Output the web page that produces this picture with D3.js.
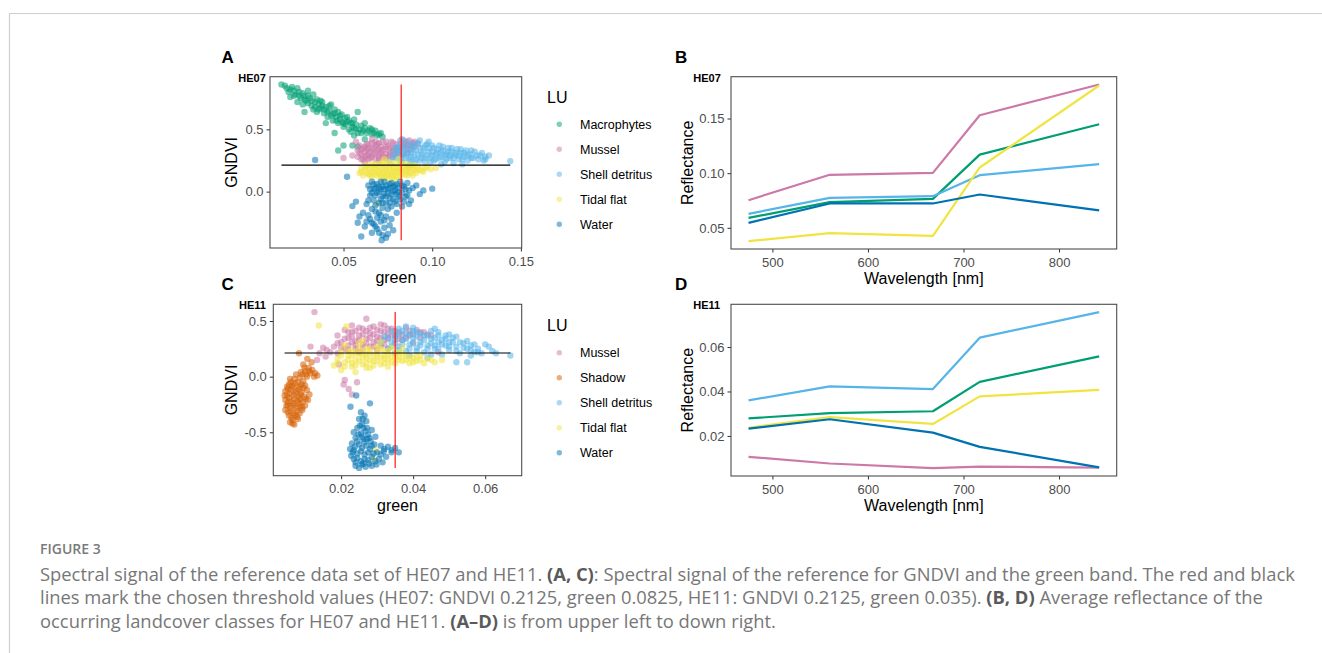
<!DOCTYPE html>
<html>
<head>
<meta charset="utf-8">
<script src="https://cdn.jsdelivr.net/npm/d3@7"></script>
<style>
  body { margin: 0; background: #fff; }
  svg { display: block; font-family: "Liberation Sans", Arial, sans-serif; }
</style>
</head>
<body>
<svg id="fig" width="1322" height="653"></svg>
<script>
/**
* Figure 3: spectral signal of the reference data (HE07 / HE11).
*/

// class colours (okabe-ito, as in the ggplot figure)
const colors = {
    green: "#009E73", pink: "#CC79A7", sky: "#56B4E9",
    yellow: "#F0E442", blue: "#0072B2", orange: "#D55E00"
};

// ---- HE07 scatter : [green, GNDVI] ----
const he07Macrophytes = [
    [0.015,0.86],[0.018,0.83],[0.019,0.80],[0.021,0.84],[0.022,0.81],[0.023,0.78],[0.020,0.76],[0.025,0.80],
    [0.026,0.75],[0.024,0.72],[0.028,0.77],[0.029,0.73],[0.027,0.70],[0.030,0.81],[0.031,0.75],[0.032,0.69],
    [0.033,0.78],[0.034,0.72],[0.033,0.66],[0.035,0.74],[0.036,0.70],[0.035,0.64],[0.037,0.67],[0.038,0.72],
    [0.039,0.63],[0.040,0.68],[0.041,0.60],[0.042,0.65],[0.043,0.70],[0.044,0.62],[0.044,0.57],[0.045,0.66],
    [0.046,0.60],[0.047,0.55],[0.047,0.64],[0.048,0.58],[0.049,0.62],[0.050,0.55],[0.050,0.52],[0.051,0.59],
    [0.052,0.56],[0.053,0.50],[0.054,0.55],[0.055,0.52],[0.056,0.58],[0.057,0.50],[0.058,0.64],[0.058,0.47],
    [0.060,0.53],[0.061,0.49],[0.062,0.55],[0.063,0.47],[0.065,0.51],[0.066,0.46],[0.068,0.49],[0.069,0.45],
    [0.071,0.47],[0.056,0.45],[0.047,0.33],[0.050,0.37],[0.055,0.37],[0.058,0.36],[0.045,0.47],[0.040,0.55],
    [0.028,0.64],[0.062,0.42],
    [0.017,0.85],[0.020,0.82],[0.022,0.77],[0.024,0.83],[0.025,0.77],[0.027,0.79],[0.028,0.74],[0.030,0.71],
    [0.030,0.77],[0.032,0.73],[0.034,0.68],[0.036,0.66],[0.037,0.73],[0.038,0.69],[0.039,0.66],[0.041,0.64],
    [0.042,0.69],[0.043,0.61],[0.045,0.63],[0.046,0.57],[0.048,0.61],[0.049,0.56],[0.051,0.54],[0.052,0.60],
    [0.053,0.57],[0.055,0.55],[0.056,0.51],[0.057,0.54],[0.059,0.50],[0.060,0.47],[0.062,0.51],[0.064,0.49],
    [0.066,0.50],[0.067,0.47],[0.070,0.46],[0.072,0.44],[0.054,0.48]
];
const he07Mussel = [
    [0.058,0.28],[0.058,0.33],[0.059,0.37],[0.060,0.30],[0.061,0.35],[0.061,0.26],[0.062,0.32],[0.063,0.38],
    [0.063,0.29],[0.064,0.35],[0.065,0.27],[0.065,0.32],[0.066,0.39],[0.067,0.30],[0.067,0.35],[0.068,0.26],
    [0.069,0.33],[0.069,0.38],[0.070,0.29],[0.071,0.36],[0.071,0.31],[0.072,0.40],[0.073,0.27],[0.073,0.34],
    [0.074,0.30],[0.075,0.37],[0.076,0.32],[0.076,0.28],[0.077,0.40],[0.078,0.35],[0.079,0.30],[0.080,0.38],
    [0.081,0.33],[0.082,0.41],[0.083,0.36],[0.084,0.31],[0.085,0.39],[0.086,0.34],[0.087,0.41],[0.088,0.37],
    [0.090,0.40],[0.092,0.38],[0.055,0.29],[0.050,0.27],[0.057,0.40],[0.066,0.42],[0.070,0.25],[0.062,0.24],
    [0.059,0.31],[0.060,0.34],[0.062,0.28],[0.062,0.36],[0.064,0.30],[0.064,0.38],[0.066,0.28],[0.066,0.34],
    [0.068,0.31],[0.068,0.37],[0.070,0.27],[0.070,0.34],[0.070,0.39],[0.072,0.29],[0.072,0.33],[0.074,0.27],
    [0.074,0.36],[0.074,0.40],[0.076,0.30],[0.076,0.35],[0.078,0.28],[0.078,0.33],[0.078,0.39],[0.080,0.31],
    [0.080,0.35],[0.082,0.29],[0.082,0.34],[0.084,0.37],[0.084,0.41],[0.086,0.31],[0.086,0.37],[0.088,0.34],
    [0.089,0.39],[0.090,0.36],[0.060,0.26],[0.064,0.26],[0.068,0.40],[0.063,0.34]
];
const he07Shell = [
    [0.076,0.25],[0.078,0.30],[0.079,0.35],[0.080,0.27],[0.081,0.32],[0.082,0.38],[0.083,0.24],[0.084,0.29],
    [0.085,0.34],[0.086,0.40],[0.087,0.26],[0.088,0.31],[0.089,0.36],[0.090,0.23],[0.090,0.28],[0.091,0.33],
    [0.092,0.39],[0.093,0.25],[0.094,0.30],[0.095,0.35],[0.096,0.27],[0.097,0.38],[0.098,0.32],[0.099,0.24],
    [0.100,0.29],[0.101,0.35],[0.102,0.26],[0.103,0.31],[0.104,0.37],[0.105,0.28],[0.106,0.33],[0.107,0.24],
    [0.108,0.30],[0.109,0.35],[0.110,0.27],[0.111,0.32],[0.112,0.23],[0.113,0.29],[0.114,0.34],[0.115,0.26],
    [0.116,0.31],[0.118,0.28],[0.119,0.33],[0.120,0.25],[0.121,0.30],[0.123,0.27],[0.124,0.32],[0.126,0.26],
    [0.127,0.29],[0.129,0.25],[0.130,0.28],[0.132,0.29],[0.144,0.245],[0.098,0.40],[0.093,0.41],[0.087,0.21],
    [0.105,0.22],[0.117,0.22],[0.083,0.42],
    [0.079,0.27],[0.080,0.33],[0.081,0.36],[0.082,0.25],[0.083,0.30],[0.084,0.35],[0.085,0.27],[0.086,0.31],
    [0.087,0.37],[0.088,0.24],[0.088,0.28],[0.089,0.33],[0.090,0.38],[0.091,0.26],[0.092,0.30],[0.093,0.35],
    [0.094,0.27],[0.095,0.32],[0.096,0.37],[0.096,0.24],[0.097,0.29],[0.098,0.35],[0.099,0.27],[0.100,0.32],
    [0.100,0.37],[0.101,0.25],[0.102,0.30],[0.103,0.34],[0.104,0.27],[0.105,0.32],[0.106,0.36],[0.107,0.29],
    [0.108,0.26],[0.109,0.32],[0.110,0.29],[0.111,0.35],[0.112,0.27],[0.113,0.31],[0.115,0.29],[0.116,0.34],
    [0.117,0.26],[0.118,0.31],[0.120,0.29],[0.122,0.27],[0.122,0.33],[0.125,0.29],[0.128,0.31],[0.130,0.26]
];
const he07Tidal = [
    [0.059,0.15],[0.060,0.19],[0.061,0.13],[0.062,0.17],[0.063,0.21],[0.064,0.14],[0.065,0.18],[0.066,0.12],
    [0.066,0.22],[0.067,0.16],[0.068,0.20],[0.069,0.13],[0.070,0.17],[0.071,0.10],[0.071,0.22],[0.072,0.15],
    [0.073,0.19],[0.074,0.12],[0.075,0.24],[0.075,0.16],[0.076,0.21],[0.077,0.13],[0.078,0.18],[0.079,0.10],
    [0.079,0.23],[0.080,0.15],[0.081,0.20],[0.082,0.12],[0.083,0.17],[0.084,0.22],[0.085,0.14],[0.086,0.19],
    [0.087,0.16],[0.088,0.21],[0.089,0.13],[0.090,0.18],[0.091,0.15],[0.092,0.20],[0.094,0.17],[0.096,0.19],
    [0.099,0.18],[0.102,0.19],[0.073,0.26],[0.081,0.26],[0.069,-0.10],
    [0.060,0.16],[0.062,0.20],[0.063,0.15],[0.064,0.19],[0.065,0.13],[0.066,0.16],[0.067,0.21],[0.068,0.14],
    [0.068,0.18],[0.069,0.22],[0.070,0.15],[0.070,0.20],[0.071,0.13],[0.072,0.18],[0.072,0.23],[0.073,0.14],
    [0.074,0.17],[0.074,0.21],[0.075,0.13],[0.076,0.18],[0.077,0.15],[0.077,0.22],[0.078,0.12],[0.078,0.20],
    [0.079,0.16],[0.080,0.19],[0.080,0.12],[0.081,0.16],[0.082,0.22],[0.082,0.18],[0.083,0.14],[0.084,0.19],
    [0.085,0.17],[0.086,0.13],[0.086,0.22],[0.087,0.19],[0.088,0.15],[0.089,0.18],[0.090,0.21],[0.091,0.17],
    [0.093,0.18],[0.095,0.16],[0.097,0.20],[0.076,0.10],[0.073,0.11]
];
const he07Water = [
    [0.034,0.254],[0.052,0.12],[0.100,0.024],[0.055,-0.116],[0.060,-0.36],[0.0715,-0.39],
    [0.064,0.05],[0.066,0.08],[0.067,0.02],[0.068,-0.03],[0.069,0.06],[0.070,0.00],[0.071,-0.06],[0.072,0.04],
    [0.073,0.08],[0.073,-0.02],[0.074,-0.09],[0.075,0.02],[0.076,0.06],[0.076,-0.05],[0.077,-0.12],[0.078,0.00],
    [0.079,0.05],[0.079,-0.08],[0.080,-0.02],[0.081,0.03],[0.082,0.08],[0.082,-0.06],[0.083,-0.01],[0.084,0.04],
    [0.085,-0.04],[0.086,0.07],[0.087,0.01],[0.088,-0.07],[0.089,0.03],[0.091,0.05],[0.093,-0.02],[0.095,0.01],
    [0.065,-0.03],[0.063,-0.10],[0.066,-0.14],[0.068,-0.11],[0.070,-0.17],[0.072,-0.13],[0.074,-0.20],[0.061,-0.17],
    [0.059,-0.20],[0.058,-0.25],[0.062,-0.28],[0.065,-0.22],[0.067,-0.26],[0.069,-0.30],[0.071,-0.24],[0.073,-0.29],
    [0.075,-0.34],[0.076,-0.27],[0.078,-0.31],[0.074,-0.37],[0.066,-0.33],[0.080,-0.17],[0.083,-0.12],[0.087,-0.10],
    [0.057,-0.08],
    [0.065,0.02],[0.066,-0.01],[0.067,0.06],[0.068,0.03],[0.069,-0.01],[0.070,0.04],[0.070,-0.09],[0.071,0.02],
    [0.071,0.08],[0.072,-0.04],[0.072,-0.09],[0.073,0.02],[0.074,0.05],[0.074,-0.04],[0.075,-0.01],[0.075,-0.14],
    [0.076,0.03],[0.077,-0.02],[0.077,0.07],[0.078,-0.06],[0.078,0.04],[0.079,0.01],[0.080,0.06],[0.080,-0.10],
    [0.081,-0.04],[0.081,0.00],[0.083,0.05],[0.084,-0.08],[0.085,0.02],[0.086,-0.03],[0.068,-0.16],[0.069,-0.21],
    [0.071,-0.19],[0.073,-0.23],[0.064,-0.19],[0.066,-0.25],[0.068,-0.28],[0.070,-0.33],[0.063,-0.24],[0.072,-0.35],
    [0.077,-0.22],[0.064,-0.07],[0.067,-0.07],[0.076,-0.09]
];

// ---- HE11 scatter : [green, GNDVI] ----
const he11Mussel = [
    [0.0126,0.58],[0.0115,0.27],[0.0133,0.15],[0.0157,0.18],[0.0194,0.11],[0.0207,-0.07],[0.0221,-0.11],
    [0.0244,-0.05],[0.023,-0.16],[0.021,-0.03],
    [0.016,0.24],[0.018,0.27],[0.019,0.21],[0.020,0.31],[0.021,0.25],[0.022,0.35],[0.022,0.28],[0.023,0.40],
    [0.024,0.32],[0.024,0.25],[0.025,0.37],[0.026,0.29],[0.026,0.43],[0.027,0.34],[0.027,0.52],[0.028,0.39],
    [0.028,0.27],[0.029,0.31],[0.029,0.45],[0.030,0.36],[0.031,0.41],[0.031,0.28],[0.032,0.33],[0.032,0.46],
    [0.033,0.38],[0.033,0.25],[0.034,0.43],[0.035,0.30],[0.035,0.36],[0.036,0.40],[0.037,0.33],[0.038,0.44],
    [0.039,0.37],[0.040,0.30],[0.041,0.42],[0.042,0.35],[0.043,0.40],[0.045,0.37],[0.047,0.22],[0.019,0.37],
    [0.021,0.42],[0.025,0.22],[0.030,0.24],[0.023,0.46],[0.014,0.21],
    [0.020,0.26],[0.021,0.34],[0.022,0.24],[0.023,0.31],[0.023,0.36],[0.024,0.28],[0.024,0.41],[0.025,0.33],
    [0.026,0.25],[0.026,0.38],[0.027,0.30],[0.027,0.41],[0.028,0.35],[0.028,0.44],[0.029,0.27],[0.029,0.38],
    [0.030,0.32],[0.030,0.42],[0.031,0.35],[0.032,0.29],[0.032,0.40],[0.033,0.43],[0.033,0.34],[0.034,0.37],
    [0.035,0.41],[0.036,0.34],[0.037,0.38],[0.038,0.35],[0.039,0.41],[0.040,0.38],[0.042,0.40],[0.044,0.38],
    [0.017,0.22],[0.019,0.30],[0.015,0.26],[0.022,0.40],[0.025,0.44],[0.031,0.47]
];
const he11Shadow = [
    [0.0083,0.21],[0.0106,0.16],[0.0110,0.08],[0.0120,0.06],[0.0128,0.03],[0.0134,0.01],[0.0100,0.05],[0.0092,0.02],
    [0.0115,0.03],[0.0105,0.00],[0.0085,-0.01],[0.0125,0.00],[0.0070,-0.02],[0.0060,-0.05],[0.0080,-0.05],[0.0095,-0.04],
    [0.0050,-0.09],[0.0065,-0.08],[0.0085,-0.09],[0.0100,-0.08],[0.0045,-0.13],[0.0060,-0.12],[0.0075,-0.13],[0.0090,-0.14],
    [0.0105,-0.12],[0.0050,-0.17],[0.0068,-0.17],[0.0083,-0.18],[0.0098,-0.18],[0.0045,-0.21],[0.0060,-0.22],[0.0078,-0.22],
    [0.0093,-0.23],[0.0052,-0.26],[0.0068,-0.26],[0.0085,-0.27],[0.0100,-0.26],[0.0045,-0.30],[0.0060,-0.31],[0.0077,-0.31],
    [0.0092,-0.30],[0.0055,-0.35],[0.0072,-0.35],[0.0065,-0.39],[0.0080,-0.38],[0.0070,-0.43],[0.0058,-0.41],[0.0108,-0.21],
    [0.0112,-0.16],
    [0.0058,-0.02],[0.0075,0.02],[0.0088,0.04],[0.0098,0.08],[0.0112,0.05],[0.0055,-0.07],[0.0072,-0.06],[0.0090,-0.07],
    [0.0052,-0.11],[0.0068,-0.10],[0.0082,-0.11],[0.0096,-0.10],[0.0058,-0.15],[0.0074,-0.15],[0.0088,-0.16],[0.0055,-0.19],
    [0.0070,-0.20],[0.0086,-0.20],[0.0102,-0.20],[0.0052,-0.23],[0.0068,-0.24],[0.0084,-0.24],[0.0060,-0.28],[0.0076,-0.28],
    [0.0092,-0.28],[0.0052,-0.32],[0.0068,-0.33],[0.0085,-0.33],[0.0062,-0.37],[0.0078,-0.36],[0.0048,-0.26],[0.0043,-0.17],
    [0.0065,-0.42],[0.0095,0.11],[0.0118,0.13],[0.0102,0.02]
];
const he11Shell = [
    [0.031,0.30],[0.032,0.36],[0.033,0.25],[0.034,0.41],[0.034,0.31],[0.035,0.37],[0.035,0.21],[0.036,0.27],
    [0.036,0.43],[0.037,0.33],[0.038,0.39],[0.038,0.23],[0.039,0.29],[0.040,0.35],[0.040,0.44],[0.041,0.26],
    [0.041,0.40],[0.042,0.31],[0.043,0.37],[0.043,0.22],[0.044,0.28],[0.045,0.34],[0.045,0.41],[0.046,0.25],
    [0.047,0.31],[0.047,0.37],[0.048,0.20],[0.049,0.28],[0.049,0.34],[0.050,0.24],[0.051,0.31],[0.052,0.27],
    [0.052,0.36],[0.053,0.21],[0.054,0.30],[0.055,0.25],[0.055,0.13],[0.056,0.28],[0.057,0.22],[0.058,0.25],
    [0.059,0.21],[0.060,0.29],[0.062,0.23],[0.067,0.19],[0.052,0.13],[0.050,0.38],[0.044,0.17],[0.039,0.19],
    [0.046,0.43],[0.038,0.45],
    [0.033,0.35],[0.034,0.27],[0.035,0.33],[0.036,0.38],[0.036,0.24],[0.037,0.29],[0.037,0.41],[0.038,0.34],
    [0.039,0.25],[0.039,0.38],[0.040,0.31],[0.040,0.41],[0.041,0.36],[0.041,0.23],[0.042,0.28],[0.042,0.39],
    [0.043,0.33],[0.044,0.25],[0.044,0.37],[0.045,0.30],[0.046,0.35],[0.046,0.28],[0.047,0.40],[0.047,0.25],
    [0.048,0.33],[0.048,0.29],[0.049,0.37],[0.050,0.31],[0.050,0.27],[0.051,0.35],[0.052,0.23],[0.053,0.31],
    [0.054,0.26],[0.055,0.32],[0.056,0.24],[0.057,0.29],[0.058,0.22],[0.061,0.27],[0.063,0.21],[0.056,0.19],
    [0.045,0.20]
];
const he11Tidal = [
    [0.0138,0.46],[0.0215,0.45],[0.0295,-0.66],[0.029,-0.74],
    [0.018,0.10],[0.019,0.16],[0.020,0.22],[0.020,0.06],[0.021,0.13],[0.021,0.28],[0.022,0.19],[0.023,0.09],
    [0.023,0.24],[0.024,0.15],[0.025,0.30],[0.025,0.20],[0.026,0.11],[0.027,0.17],[0.027,0.25],[0.028,0.08],
    [0.028,0.21],[0.029,0.14],[0.030,0.19],[0.030,0.27],[0.031,0.11],[0.032,0.16],[0.032,0.23],[0.033,0.20],
    [0.034,0.13],[0.034,0.26],[0.035,0.17],[0.036,0.22],[0.037,0.14],[0.038,0.19],[0.039,0.12],[0.040,0.17],
    [0.041,0.14],[0.042,0.19],[0.043,0.12],[0.044,0.16],[0.046,0.13],[0.048,0.15],[0.024,0.04],[0.026,0.32],
    [0.031,0.31],[0.037,0.26],
    [0.019,0.12],[0.020,0.19],[0.021,0.09],[0.022,0.15],[0.022,0.23],[0.023,0.12],[0.023,0.19],[0.024,0.10],
    [0.024,0.21],[0.025,0.14],[0.025,0.25],[0.026,0.17],[0.026,0.22],[0.027,0.12],[0.027,0.20],[0.028,0.15],
    [0.028,0.25],[0.029,0.10],[0.029,0.19],[0.030,0.14],[0.030,0.22],[0.031,0.17],[0.031,0.25],[0.032,0.12],
    [0.032,0.19],[0.033,0.15],[0.033,0.23],[0.034,0.18],[0.035,0.12],[0.035,0.21],[0.036,0.15],[0.036,0.18],
    [0.037,0.20],[0.038,0.15],[0.039,0.17],[0.040,0.13],[0.041,0.18],[0.042,0.15],[0.045,0.15],[0.033,0.09],
    [0.027,0.08]
];
const he11Water = [
    [0.0242,-0.17],[0.0226,-0.27],[0.028,-0.24],
    [0.0255,-0.32],[0.0265,-0.35],[0.0250,-0.38],[0.0270,-0.40],[0.0258,-0.43],[0.0245,-0.46],[0.0272,-0.46],
    [0.0285,-0.48],[0.0235,-0.50],[0.0255,-0.51],[0.0275,-0.52],[0.0295,-0.54],[0.0240,-0.55],[0.0262,-0.56],
    [0.0282,-0.58],[0.0230,-0.60],[0.0250,-0.61],[0.0270,-0.62],[0.0292,-0.61],[0.0310,-0.62],[0.0330,-0.63],
    [0.0350,-0.64],[0.0360,-0.68],[0.0340,-0.68],[0.0318,-0.67],[0.0300,-0.68],[0.0235,-0.66],[0.0255,-0.67],
    [0.0275,-0.68],[0.0228,-0.71],[0.0245,-0.73],[0.0265,-0.74],[0.0285,-0.72],[0.0305,-0.74],[0.0325,-0.72],
    [0.0240,-0.77],[0.0258,-0.79],[0.0278,-0.78],[0.0298,-0.79],[0.0268,-0.81],[0.0250,-0.82],[0.0315,-0.77],
    [0.0225,-0.65],
    [0.0260,-0.38],[0.0262,-0.46],[0.0248,-0.52],[0.0268,-0.49],[0.0258,-0.54],[0.0278,-0.55],[0.0245,-0.58],
    [0.0265,-0.59],[0.0285,-0.62],[0.0238,-0.63],[0.0258,-0.64],[0.0280,-0.65],[0.0320,-0.65],[0.0340,-0.66],
    [0.0245,-0.69],[0.0265,-0.70],[0.0290,-0.69],[0.0310,-0.70],[0.0235,-0.74],[0.0255,-0.76],[0.0275,-0.75],
    [0.0295,-0.76],[0.0262,-0.78],[0.0285,-0.80],[0.0240,-0.80],[0.0232,-0.68],[0.0272,-0.56],[0.0252,-0.44]
];

// ---- mean reflectance per band ----
const wavelengths = [475, 560, 668, 717, 842];
const he07ReflMacrophytes = [0.0591, 0.0735, 0.0765, 0.1170, 0.1448];
const he07ReflMussel      = [0.0753, 0.0985, 0.1003, 0.1530, 0.1811];
const he07ReflShell       = [0.0628, 0.0774, 0.0790, 0.0982, 0.1082];
const he07ReflTidal       = [0.0378, 0.0451, 0.0427, 0.1052, 0.1802];
const he07ReflWater       = [0.0546, 0.0723, 0.0723, 0.0805, 0.0659];

const he11ReflMussel = [0.0279, 0.0303, 0.0311, 0.0443, 0.0558];
const he11ReflShadow = [0.0106, 0.0076, 0.0055, 0.0062, 0.0058];
const he11ReflShell  = [0.0360, 0.0423, 0.0411, 0.0642, 0.0757];
const he11ReflTidal  = [0.0237, 0.0285, 0.0254, 0.0378, 0.0407];
const he11ReflWater  = [0.0233, 0.0275, 0.0215, 0.0151, 0.0059];

// thresholds
const gndviCut = 0.2125;
const he07GreenCut = 0.0825, he11GreenCut = 0.035;

// tick labels
const he07GreenTicks = [0.05, 0.10, 0.15], he07GndviTicks = [0.0, 0.5];
const he11GreenTicks = [0.02, 0.04, 0.06], he11GndviTicks = [-0.5, 0.0, 0.5];
const waveTicks = [500, 600, 700, 800];
const he07ReflTicks = [0.05, 0.10, 0.15], he11ReflTicks = [0.02, 0.04, 0.06];


const svg = d3.select("#fig");
const FONT = "Liberation Sans, Arial, sans-serif";

// ggplot style 5% expansion
function expand(ext) {
    const d = (ext[1] - ext[0]) * 0.05;
    return [ext[0] - d, ext[1] + d];
}
const fmt = p => v => d3.format("." + p + "f")(v).replace("\u2212", "-");


/**
* Frame, ticks and titles shared by all four panels.
*/
function drawAxes(g, box, x, y, cfg) {
    const ax = g.append("g")
        .attr("transform", "translate(0," + box.bottom + ")")
        .call(d3.axisBottom(x).tickValues(cfg.xTicks).tickFormat(cfg.xFmt).tickSize(3.5).tickPadding(5));
    const ay = g.append("g")
        .attr("transform", "translate(" + box.left + ",0)")
        .call(d3.axisLeft(y).tickValues(cfg.yTicks).tickFormat(cfg.yFmt).tickSize(3.5).tickPadding(3));
    [ax, ay].forEach(a => {
        a.select(".domain").remove();
        a.attr("font-family", FONT).attr("font-size", 13);
        a.selectAll("line").attr("stroke", "#333");
        a.selectAll("text").attr("fill", "#4d4d4d");
    });

    g.append("rect")
        .attr("x", box.left).attr("y", box.top)
        .attr("width", box.right - box.left).attr("height", box.bottom - box.top)
        .attr("fill", "none").attr("stroke", "#4d4d4d").attr("stroke-width", 1.1);

    g.append("text")
        .attr("x", (box.left + box.right) / 2).attr("y", box.bottom + 35)
        .attr("text-anchor", "middle").attr("font-size", 16)
        .text(cfg.xTitle);
    g.append("text")
        .attr("transform", "translate(" + cfg.yTitleX + "," + (box.top + box.bottom) / 2 + ") rotate(-90)")
        .attr("text-anchor", "middle").attr("font-size", 16)
        .text(cfg.yTitle);

    g.append("text").attr("x", cfg.letterX).attr("y", box.top - 14)
        .attr("font-size", 17).attr("font-weight", "bold").text(cfg.letter);
    g.append("text").attr("x", cfg.tagX).attr("y", box.top + 5)
        .attr("font-size", 11).attr("font-weight", "bold").text(cfg.tag);
}


/**
* Scatter of GNDVI against green with the two threshold lines.
*/
function drawScatter(cfg) {
    const g = svg.append("g");
    const box = cfg.box;
    const all = cfg.series.flatMap(s => s.points);
    const gx = d3.extent(all, d => d[0]), gy = d3.extent(all, d => d[1]);

    const x = d3.scaleLinear().domain(expand(gx)).range([box.left, box.right]);
    const y = d3.scaleLinear().domain(expand(gy)).range([box.bottom, box.top]);

    cfg.series.forEach(s => {
        g.append("g").selectAll("circle")
            .data(s.points)
            .join("circle")
            .attr("cx", d => x(d[0]))
            .attr("cy", d => y(d[1]))
            .attr("r", 3.2)
            .attr("fill", s.color)
            .attr("fill-opacity", 0.55);
    });

    // threshold lines
    g.append("line")
        .attr("x1", x(gx[0])).attr("x2", x(gx[1]))
        .attr("y1", y(cfg.gndviCut)).attr("y2", y(cfg.gndviCut))
        .attr("stroke", "black").attr("stroke-width", 1.1);
    g.append("line")
        .attr("x1", x(cfg.greenCut)).attr("x2", x(cfg.greenCut))
        .attr("y1", y(gy[0])).attr("y2", y(gy[1]))
        .attr("stroke", "red").attr("stroke-width", 1.1);

    drawAxes(g, box, x, y, cfg);

    // legend
    const lg = svg.append("g").attr("transform", "translate(" + cfg.legend[0] + "," + cfg.legend[1] + ")");
    lg.append("text").attr("x", 0).attr("y", 0).attr("font-size", 16).text("LU");
    cfg.series.forEach((s, i) => {
        lg.append("circle").attr("cx", 12.3).attr("cy", 21.5 + i * 25).attr("r", 2.7)
            .attr("fill", s.color).attr("fill-opacity", 0.5);
        lg.append("text").attr("x", 33).attr("y", 21.5 + i * 25 + 4.5)
            .attr("font-size", 12.5).text(s.name);
    });
}


/**
* Mean reflectance per class over the five bands.
*/
function drawSpectra(cfg) {
    const g = svg.append("g");
    const box = cfg.box;
    const allV = cfg.series.flatMap(s => s.values);

    const x = d3.scaleLinear().domain(expand(d3.extent(wavelengths))).range([box.left, box.right]);
    const y = d3.scaleLinear().domain(expand(d3.extent(allV))).range([box.bottom, box.top]);

    const line = d3.line()
        .x((d, i) => x(wavelengths[i]))
        .y(d => y(d));

    cfg.series.forEach(s => {
        g.append("path")
            .attr("d", line(s.values))
            .attr("fill", "none")
            .attr("stroke", s.color)
            .attr("stroke-width", 2.2)
            .attr("stroke-linejoin", "round");
    });

    drawAxes(g, box, x, y, cfg);
}


// Panel A
drawScatter({
    box: {left: 270, right: 521.7, top: 76.7, bottom: 248},
    series: [
        {name: "Macrophytes", color: colors.green, points: he07Macrophytes},
        {name: "Mussel", color: colors.pink, points: he07Mussel},
        {name: "Shell detritus", color: colors.sky, points: he07Shell},
        {name: "Tidal flat", color: colors.yellow, points: he07Tidal},
        {name: "Water", color: colors.blue, points: he07Water}
    ],
    gndviCut: gndviCut, greenCut: he07GreenCut,
    xTicks: he07GreenTicks, xFmt: fmt(2), yTicks: he07GndviTicks, yFmt: fmt(1),
    xTitle: "green", yTitle: "GNDVI", yTitleX: 237,
    letter: "A", letterX: 221.5, tag: "HE07", tagX: 238.3,
    legend: [547, 102.7]
});

// Panel C
drawScatter({
    box: {left: 273.3, right: 521.7, top: 304.3, bottom: 475.7},
    series: [
        {name: "Mussel", color: colors.pink, points: he11Mussel},
        {name: "Shadow", color: colors.orange, points: he11Shadow},
        {name: "Shell detritus", color: colors.sky, points: he11Shell},
        {name: "Tidal flat", color: colors.yellow, points: he11Tidal},
        {name: "Water", color: colors.blue, points: he11Water}
    ],
    gndviCut: gndviCut, greenCut: he11GreenCut,
    xTicks: he11GreenTicks, xFmt: fmt(2), yTicks: he11GndviTicks, yFmt: fmt(1),
    xTitle: "green", yTitle: "GNDVI", yTitleX: 237,
    letter: "C", letterX: 221.5, tag: "HE11", tagX: 239,
    legend: [547, 331.2]
});

// Panel B
drawSpectra({
    box: {left: 731, right: 1116.7, top: 76.7, bottom: 249},
    series: [
        {color: colors.green, values: he07ReflMacrophytes},
        {color: colors.pink, values: he07ReflMussel},
        {color: colors.sky, values: he07ReflShell},
        {color: colors.yellow, values: he07ReflTidal},
        {color: colors.blue, values: he07ReflWater}
    ],
    xTicks: waveTicks, xFmt: d3.format("d"), yTicks: he07ReflTicks, yFmt: fmt(2),
    xTitle: "Wavelength [nm]", yTitle: "Reflectance", yTitleX: 693,
    letter: "B", letterX: 675, tag: "HE07", tagX: 693.3
});

// Panel D
drawSpectra({
    box: {left: 731, right: 1116.7, top: 304.3, bottom: 476},
    series: [
        {color: colors.green, values: he11ReflMussel},
        {color: colors.pink, values: he11ReflShadow},
        {color: colors.sky, values: he11ReflShell},
        {color: colors.yellow, values: he11ReflTidal},
        {color: colors.blue, values: he11ReflWater}
    ],
    xTicks: waveTicks, xFmt: d3.format("d"), yTicks: he11ReflTicks, yFmt: fmt(2),
    xTitle: "Wavelength [nm]", yTitle: "Reflectance", yTitleX: 693,
    letter: "D", letterX: 675, tag: "HE11", tagX: 693.3
});


// page frame + caption
svg.append("line").attr("x1", 9).attr("x2", 1322).attr("y1", 13.5).attr("y2", 13.5)
    .attr("stroke", "#cfcfcf").attr("stroke-width", 1.2);
svg.append("line").attr("x1", 9.5).attr("x2", 9.5).attr("y1", 13).attr("y2", 653)
    .attr("stroke", "#cfcfcf").attr("stroke-width", 1.2);

const captionLines = [
    [["Spectral signal of the reference data set of HE07 and HE11. ", false], ["(A, C)", true],
     [": Spectral signal of the reference for GNDVI and the green band. The red and black", false]],
    [["lines mark the chosen threshold values (HE07: GNDVI 0.2125, green 0.0825, HE11: GNDVI 0.2125, green 0.035). ", false],
     ["(B, D)", true], [" Average reflectance of the", false]],
    [["occurring landcover classes for HE07 and HE11. ", false], ["(A\u2013D)", true],
     [" is from upper left to down right.", false]]
];

const cap = svg.append("g").attr("font-family", "Open Sans, Lato, sans-serif");
cap.append("text").attr("x", 40).attr("y", 554)
    .attr("font-size", 14).attr("font-weight", 600).attr("fill", "#7a7a7a").text("FIGURE 3");
const capText = captionLines.map((parts, i) => {
    const t = cap.append("text").attr("x", 40).attr("y", 580.7 + i * 23.4)
        .attr("font-size", 16).attr("fill", "#777");
    parts.forEach(p => {
        t.append("tspan").text(p[0])
            .attr("font-weight", p[1] ? 700 : 400)
            .attr("fill", p[1] ? "#5a5a5a" : "#777");
    });
    return t;
});
// the journal font runs wider: size the caption so line one spans 40..1295
const capSize = 16 * 1255 / capText[0].node().getComputedTextLength();
capText.forEach(t => t.attr("font-size", capSize.toFixed(2)));
</script>
</body>
</html>
